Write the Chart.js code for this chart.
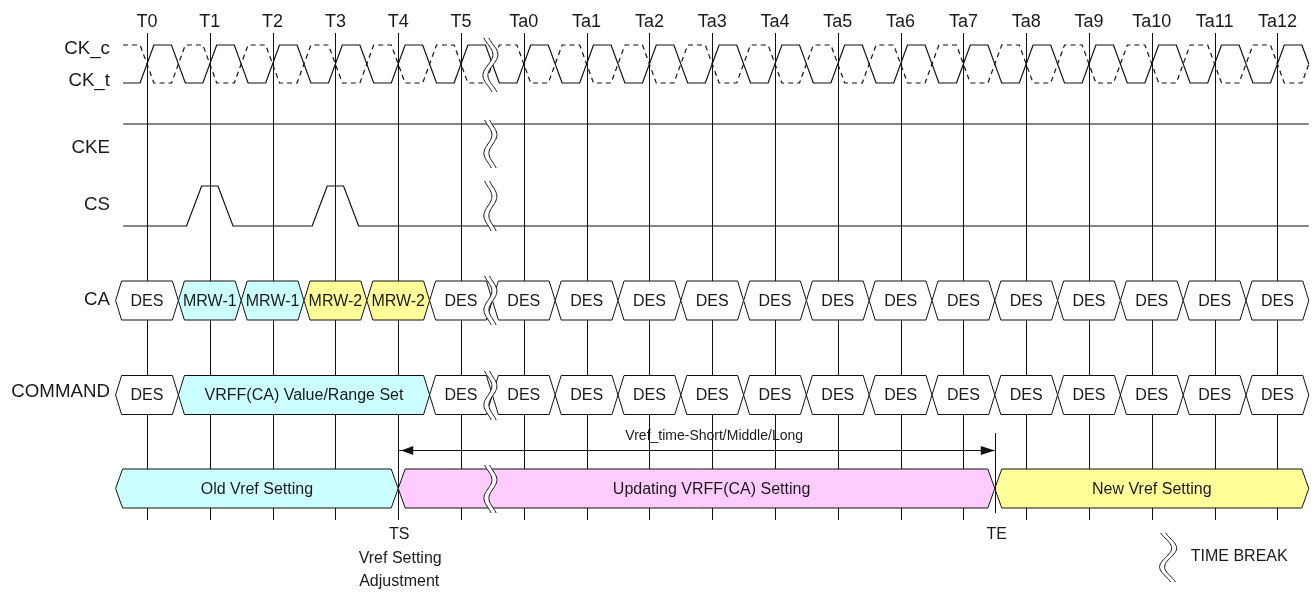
<!DOCTYPE html>
<html><head><meta charset="utf-8">
<style>html,body{margin:0;padding:0;background:#fff}#wrap{width:1314px;height:592px}</style>
<script src="https://cdn.jsdelivr.net/npm/chart.js@4/dist/chart.umd.min.js"></script>
</head><body><div id="wrap"><canvas id="c" width="1314" height="592"></canvas></div>
<script>
// ---- data ----
const clockLabels = ['T0','T1','T2','T3','T4','T5','Ta0','Ta1','Ta2','Ta3','Ta4','Ta5','Ta6','Ta7','Ta8','Ta9','Ta10','Ta11','Ta12'];
const clockPos = [0,1,2,3,4,5,6,7,8,9,10,11,12,13,14,15,16,17,18];
const signalNames = ['CK_c','CK_t','CKE','CS','CA','COMMAND'];
const csHighCycles = [1,3];
const caLabels = ['DES','MRW-1','MRW-1','MRW-2','MRW-2','DES','DES','DES','DES','DES','DES','DES','DES','DES','DES','DES','DES','DES','DES'];
const cmdLabels = ['DES','VRFF(CA) Value/Range Set','DES','DES','DES','DES','DES','DES','DES','DES','DES','DES','DES','DES','DES','DES'];
const cmdStart = [-0.5,0.5,4.5,5.5,6.5,7.5,8.5,9.5,10.5,11.5,12.5,13.5,14.5,15.5,16.5,17.5];
const cmdEnd   = [0.5,4.5,5.5,6.5,7.5,8.5,9.5,10.5,11.5,12.5,13.5,14.5,15.5,16.5,17.5,18.5];
const vrefLabels = ['Old Vref Setting','Updating VRFF(CA) Setting','New Vref Setting'];
const vrefStart = [-0.5, 4, 13.5];
const vrefEnd = [4, 13.5, 18.5];
const vrefLabelAt = [1.75, 8.99, 16.0];
const vrefFills = ['#ccffff','#ffccff','#ffff99'];
const timeBreakAt = 5.5;
const tsAt = 4, teAt = 13.5;
const arrowLabel = 'Vref_time-Short/Middle/Long';
const arrowLabelAt = 9.0;
const tsLabels = ['TS','Vref Setting','Adjustment'];
const teLabel = 'TE';
const legendText = 'TIME BREAK';

// ---- layout (y scale in layout units, top = 0) ----
const PX = 62.8, X0 = 147;
const waveStart = -0.38, waveEnd = 18.5;
const lanes = {ckHigh:45, ckLow:83, cke:124, csHigh:186, csLow:226, ca:300.5, cmd:395, arrow:450, vref:488.5};
const labelY = [49, 81, 148, 205, 300, 392];
const busHalf = 19.5;
const fillFor = {'DES':'#ffffff','MRW-1':'#ccffff','MRW-2':'#ffff99','VRFF(CA) Value/Range Set':'#ccffff'};
const FONT = '"Liberation Sans", Arial, "DejaVu Sans", sans-serif';
const TR = 0.11;

function clockPoints(inv){
  const lo = inv ? lanes.ckHigh : lanes.ckLow, hi = inv ? lanes.ckLow : lanes.ckHigh;
  const pts = [{x:waveStart, y:lo}];
  clockPos.forEach((p,i)=>{
    pts.push({x:p-TR,y:lo},{x:p+TR,y:hi});
    if(i<clockPos.length-1) pts.push({x:p+0.5-TR,y:hi},{x:p+0.5+TR,y:lo});
    else pts.push({x:p+0.5-TR,y:hi},{x:p+0.5,y:(lo+hi)/2});
  });
  return pts;
}
function csPoints(){
  const pts=[{x:waveStart,y:lanes.csLow}];
  csHighCycles.forEach(c=>{
    pts.push({x:c-0.37,y:lanes.csLow},{x:c-0.13,y:lanes.csHigh},{x:c+0.13,y:lanes.csHigh},{x:c+0.37,y:lanes.csLow});
  });
  pts.push({x:waveEnd,y:lanes.csLow});
  return pts;
}

function hexagon(ctx,x0,x1,yc,h,s,fill){
  ctx.beginPath();
  ctx.moveTo(x0,yc);ctx.lineTo(x0+s,yc-h);ctx.lineTo(x1-s,yc-h);ctx.lineTo(x1,yc);
  ctx.lineTo(x1-s,yc+h);ctx.lineTo(x0+s,yc+h);ctx.closePath();
  ctx.fillStyle=fill;ctx.fill();ctx.stroke();
}
function breakCurve(xc,y0,y1,dx,amp,n){
  const pts=[];
  for(let i=0;i<=n;i++){const t=i/n;pts.push([xc+dx+amp*Math.sin(Math.PI*(2.6*t-0.3)), y0+(y1-y0)*t]);}
  return pts;
}
function drawBreak(ctx,xc,y0,y1,amp,white){
  const a=breakCurve(xc,y0,y1,-2.5,amp,40), b=breakCurve(xc,y0,y1,2.5,amp,40);
  if(white){
    ctx.beginPath();
    a.forEach((p,i)=>i?ctx.lineTo(p[0],p[1]):ctx.moveTo(p[0],p[1]));
    for(let i=b.length-1;i>=0;i--)ctx.lineTo(b[i][0],b[i][1]);
    ctx.closePath();ctx.fillStyle='#fff';ctx.fill();
  }
  [a,b].forEach(c=>{ctx.beginPath();c.forEach((p,i)=>i?ctx.lineTo(p[0],p[1]):ctx.moveTo(p[0],p[1]));ctx.stroke();});
}

const diagram = {
  id:'diagram',
  beforeDatasetsDraw(chart){
    const {ctx,scales:{x,y}}=chart;
    ctx.save();ctx.strokeStyle='#111';ctx.lineWidth=1;
    clockPos.forEach(p=>{
      const px=Math.round(x.getPixelForValue(p))+0.5;
      ctx.beginPath();ctx.moveTo(px,y.getPixelForValue(33));ctx.lineTo(px,y.getPixelForValue(520));ctx.stroke();
    });
    ctx.restore();
  },
  afterDatasetsDraw(chart){
    const {ctx,scales:{x,y}}=chart;
    const X=v=>x.getPixelForValue(v), Y=v=>y.getPixelForValue(v);
    ctx.save();
    ctx.strokeStyle='#111';ctx.lineWidth=1;
    caLabels.forEach((l,i)=>hexagon(ctx,X(clockPos[i]-0.5),X(clockPos[i]+0.5),Y(lanes.ca),busHalf,6,fillFor[l]));
    cmdLabels.forEach((l,i)=>hexagon(ctx,X(cmdStart[i]),X(cmdEnd[i]),Y(lanes.cmd),busHalf,6,fillFor[l]));
    vrefLabels.forEach((l,i)=>hexagon(ctx,X(vrefStart[i]),X(vrefEnd[i]),Y(lanes.vref),busHalf,7,vrefFills[i]));
    ctx.beginPath();ctx.moveTo(Math.round(X(teAt))+0.5,Y(433));ctx.lineTo(Math.round(X(teAt))+0.5,Y(513));ctx.stroke();
    const ay=Math.round(Y(lanes.arrow))+0.5, ax0=X(tsAt)+1, ax1=X(teAt);
    ctx.beginPath();ctx.moveTo(ax0,ay);ctx.lineTo(ax1,ay);ctx.stroke();
    ctx.fillStyle='#111';
    ctx.beginPath();ctx.moveTo(ax0+2,ay);ctx.lineTo(ax0+14,ay-4.5);ctx.lineTo(ax0+14,ay+4.5);ctx.closePath();ctx.fill();
    ctx.beginPath();ctx.moveTo(ax1,ay);ctx.lineTo(ax1-14,ay-4.5);ctx.lineTo(ax1-14,ay+4.5);ctx.closePath();ctx.fill();
    const bx=X(timeBreakAt)-2;
    [[38,92,5],[120,168,4],[181,231,4],[276,325,4],[371,420,4],[465,513,4]].forEach(b=>drawBreak(ctx,bx,Y(b[0]),Y(b[1]),b[2],true));
    drawBreak(ctx,X(16.26),Y(533),Y(582),6,false);
    ctx.fillStyle='#1a1a1a';ctx.textBaseline='middle';
    ctx.font='18px '+FONT;ctx.textAlign='center';
    clockLabels.forEach((l,i)=>ctx.fillText(l,X(clockPos[i]),Y(22)));
    ctx.textAlign='right';
    ctx.font='18.7px '+FONT;
    signalNames.forEach((n,i)=>ctx.fillText(n,X(-0.59),Y(labelY[i])));
    ctx.font='16px '+FONT;ctx.textAlign='center';
    caLabels.forEach((l,i)=>ctx.fillText(l,X(clockPos[i]),Y(lanes.ca+1)));
    cmdLabels.forEach((l,i)=>ctx.fillText(l,X((cmdStart[i]+cmdEnd[i])/2),Y(lanes.cmd+1)));
    vrefLabels.forEach((l,i)=>ctx.fillText(l,X(vrefLabelAt[i]),Y(lanes.vref+1)));
    ctx.fillText(tsLabels[0],X(tsAt)+1,Y(535));
    ctx.fillText(tsLabels[1],X(tsAt)+2,Y(559));
    ctx.fillText(tsLabels[2],X(tsAt)+1,Y(582));
    ctx.fillText(teLabel,X(teAt)+2,Y(535));
    ctx.textAlign='left';
    ctx.fillText(legendText,X(16.62),Y(557));
    ctx.font='14px '+FONT;ctx.textAlign='center';
    ctx.fillText(arrowLabel,X(arrowLabelAt)+2,Y(436));
    ctx.restore();
  }
};

new Chart(document.getElementById('c'),{
  type:'scatter',
  data:{datasets:[
    {label:'CK_c',data:clockPoints(true),borderDash:[5,4]},
    {label:'CK_t',data:clockPoints(false)},
    {label:'CKE',data:[{x:waveStart,y:lanes.cke},{x:waveEnd,y:lanes.cke}]},
    {label:'CS',data:csPoints()}
  ].map(d=>Object.assign({showLine:true,borderColor:'#111',borderWidth:1.2,pointRadius:0,fill:false,tension:0},d))},
  options:{
    responsive:false,animation:false,events:[],
    layout:{padding:0},
    plugins:{legend:{display:false},tooltip:{enabled:false},title:{display:false}},
    scales:{
      x:{type:'linear',display:false,min:-X0/PX,max:(1314-X0)/PX},
      y:{type:'linear',display:false,min:0,max:592,reverse:true}
    }
  },
  plugins:[diagram]
});
</script></body></html>
